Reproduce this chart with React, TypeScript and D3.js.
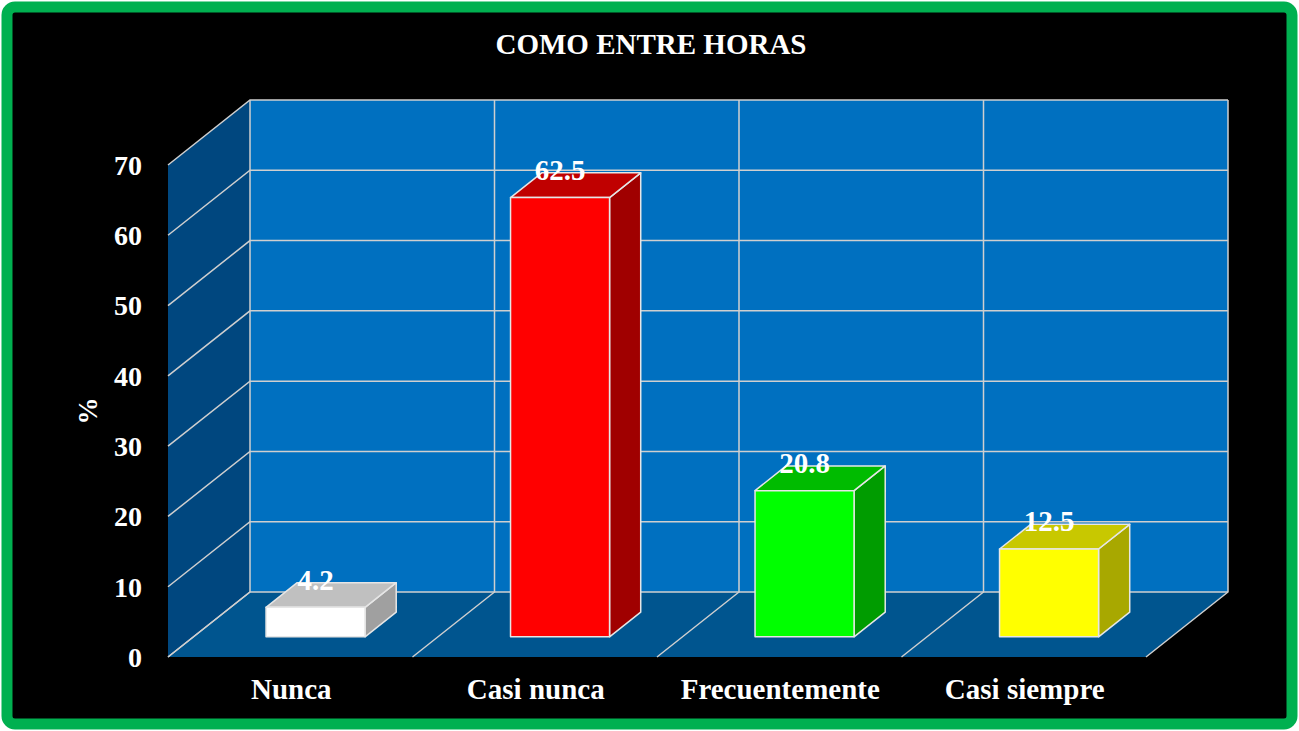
import React from "react";
import * as d3 from "d3";

const title = "COMO ENTRE HORAS";
const categories = ["Nunca", "Casi nunca", "Frecuentemente", "Casi siempre"];
const values = [4.2, 62.5, 20.8, 12.5];
const yTicks = [0, 10, 20, 30, 40, 50, 60, 70];
const frontColors = ["#ffffff", "#ff0000", "#00ff00", "#ffff00"];
const topColors = ["#c0c0c0", "#c00000", "#00bb00", "#c8c800"];
const sideColors = ["#a0a0a0", "#a00000", "#009c00", "#a8a800"];

const W = 1299;
const H = 731;
const DX = 82;
const DY = -65;
const FONT = "'Liberation Serif', 'Times New Roman', serif";

export default function App() {
  const x = d3.scaleBand<string>().domain(categories).range([168, 1146]).paddingInner(0).paddingOuter(0);
  const y = d3.scaleLinear().domain([0, 70]).range([657, 165]);
  const P = (px: number, v: number, z: number): [number, number] => [px + z * DX, y(v) + z * DY];
  const pts = (arr: [number, number][]) => arr.map((p) => p.join(",")).join(" ");

  const bw = x.bandwidth();
  const z0 = 0.31;
  const z1 = 0.69;
  const x0f = 0.297;
  const x1f = 0.702;
  const x0 = 168;
  const x1 = 1146;
  const grid = "#cfcfcf";
  const boundaries = d3.range(categories.length + 1).map((k) => x0 + k * bw);

  return (
    <svg width={W} height={H} style={{ position: "absolute", left: 0, top: 0 }} fontFamily={FONT}>
      <rect x={0} y={0} width={W} height={H} fill="#ffffff" />
      <rect x={7} y={7} width={W - 14} height={H - 14} rx={8} fill="#000000" stroke="#00b050" strokeWidth={11} />
      <text x={651} y={54} textAnchor="middle" fill="#ffffff" fontWeight="bold" fontSize={29}>
        {title}
      </text>

      {/* back wall */}
      <polygon points={pts([P(x0, 0, 1), P(x1, 0, 1), P(x1, 70, 1), P(x0, 70, 1)])} fill="#0070c0" />
      {/* side wall */}
      <polygon points={pts([P(x0, 0, 0), P(x0, 70, 0), P(x0, 70, 1), P(x0, 0, 1)])} fill="#00477f" />
      {/* floor */}
      <polygon points={pts([P(x0, 0, 0), P(x1, 0, 0), P(x1, 0, 1), P(x0, 0, 1)])} fill="#00558f" />

      {yTicks.map((t) => {
        const a = P(x0, t, 0);
        const b = P(x0, t, 1);
        const c = P(x1, t, 1);
        return <polyline key={"g" + t} points={pts([a, b, c])} fill="none" stroke={grid} strokeWidth={1.5} />;
      })}
      {boundaries.map((bx, k) => {
        const a = P(bx, 0, 0);
        const b = P(bx, 0, 1);
        const c = P(bx, 70, 1);
        return <polyline key={"b" + k} points={pts([a, b, c])} fill="none" stroke={grid} strokeWidth={1.5} />;
      })}

      {categories.map((cat, i) => {
        const bx = x(cat)!;
        const L = bx + bw * x0f;
        const R = bx + bw * x1f;
        const v = values[i];
        const front = [P(L, 0, z0), P(R, 0, z0), P(R, v, z0), P(L, v, z0)] as [number, number][];
        const top = [P(L, v, z0), P(R, v, z0), P(R, v, z1), P(L, v, z1)] as [number, number][];
        const side = [P(R, 0, z0), P(R, 0, z1), P(R, v, z1), P(R, v, z0)] as [number, number][];
        const lbl = P(bx + bw / 2, v, z0);
        const topBack = P(R, v, z1);
        return (
          <g key={cat}>
            <polygon points={pts(side)} fill={sideColors[i]} stroke="#e6e6e6" strokeWidth={1.5} strokeLinejoin="round" />
            <polygon points={pts(top)} fill={topColors[i]} stroke="#e6e6e6" strokeWidth={1.5} strokeLinejoin="round" />
            <polygon points={pts(front)} fill={frontColors[i]} stroke="#e6e6e6" strokeWidth={1.5} strokeLinejoin="round" />
            <text x={lbl[0]} y={topBack[1] + 7} textAnchor="middle" fill="#ffffff" fontWeight="bold" fontSize={29}>
              {String(v)}
            </text>
          </g>
        );
      })}

      {yTicks.map((t) => (
        <text key={"t" + t} x={142} y={y(t)} dy="0.35em" textAnchor="end" fill="#ffffff" fontWeight="bold" fontSize={28}>
          {t}
        </text>
      ))}
      <text transform="translate(97,411) rotate(-90)" textAnchor="middle" fill="#ffffff" fontWeight="bold" fontSize={27}>
        %
      </text>

      {categories.map((cat) => (
        <text key={"c" + cat} x={x(cat)! + bw / 2 + 1} y={699} textAnchor="middle" fill="#ffffff" fontWeight="bold" fontSize={29}>
          {cat}
        </text>
      ))}
    </svg>
  );
}
